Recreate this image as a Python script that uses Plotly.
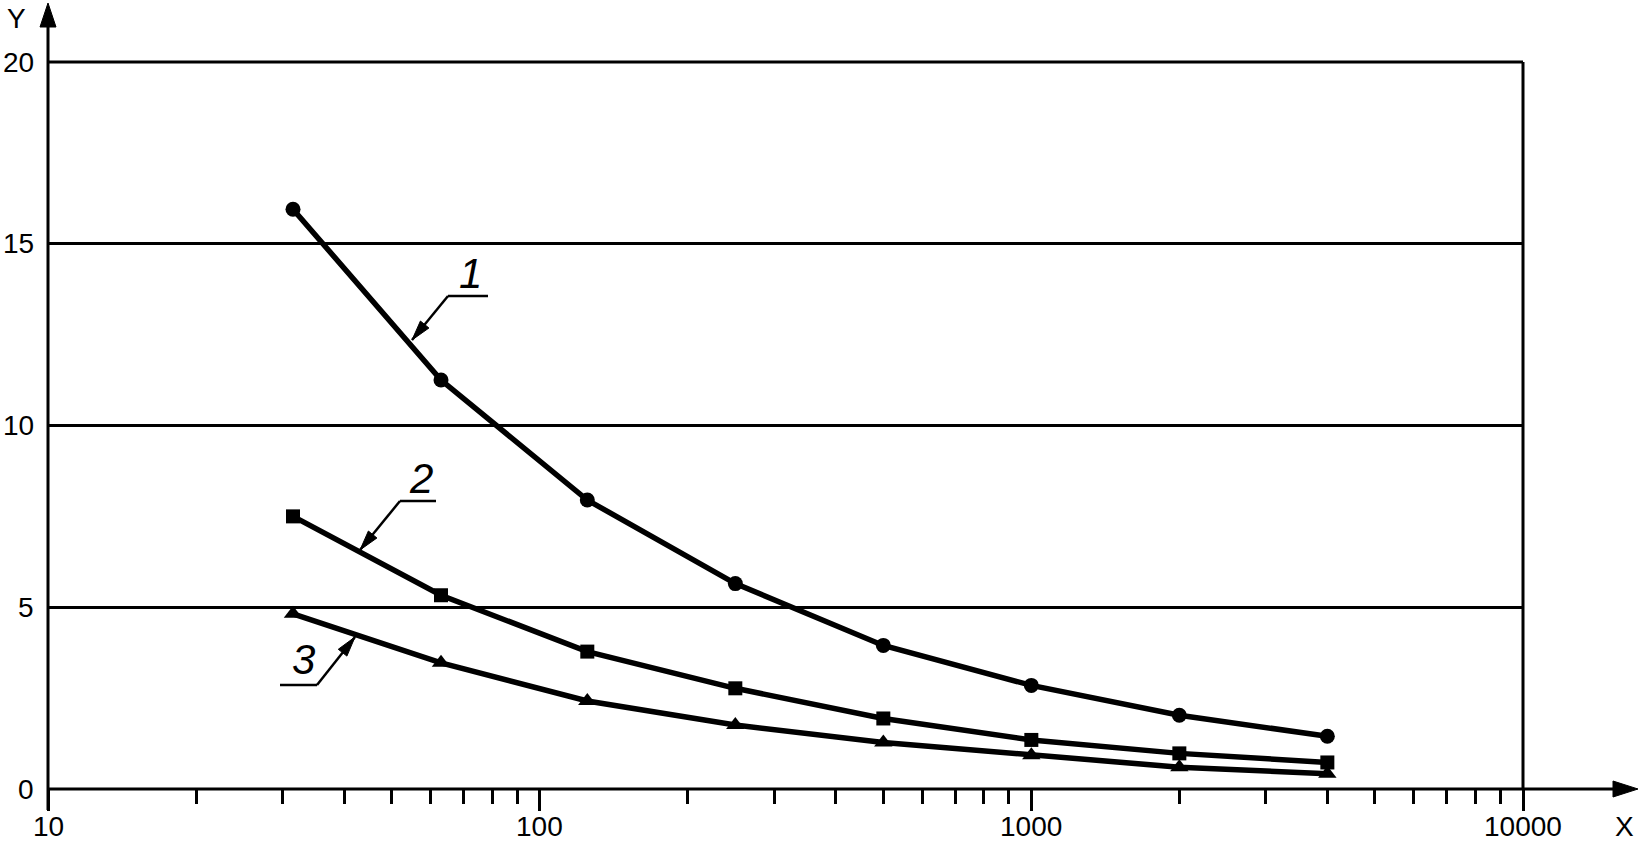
import math
import plotly.graph_objects as go

# ---- data ----
freq = [31.5, 63, 125, 250, 500, 1000, 2000, 4000]
curve1 = [15.95, 11.25, 7.95, 5.65, 3.95, 2.85, 2.03, 1.45]
curve2 = [7.5, 5.33, 3.78, 2.77, 1.94, 1.35, 0.98, 0.73]
curve3 = [4.82, 3.47, 2.42, 1.76, 1.28, 0.93, 0.60, 0.42]
x_major = [10, 100, 1000, 10000]
x_major_text = ["10", "100", "1000", "10000"]
x_minor = [m * d for d in (10, 100, 1000) for m in range(2, 10)]
y_ticks = [0, 5, 10, 15, 20]
y_tick_text = ["0", "5", "10", "15", "20"]
curve_labels = ["1", "2", "3"]

W, H = 1639, 844
L, R, T, B = 48, 116, 62, 55
PW, PH = W - L - R, H - T - B


def px(x):
    return (x - L) / PW


def py(y):
    return (H - B - y) / PH


FONT = "Liberation Sans, Arial, sans-serif"

fig = go.Figure()
for ys, sym, sz in [(curve1, "circle", 15), (curve2, "square", 14), (curve3, "triangle-up", 16)]:
    fig.add_trace(go.Scatter(
        x=freq, y=ys, mode="lines+markers",
        line=dict(color="black", width=5.5),
        marker=dict(symbol=sym, size=sz, color="black"),
        showlegend=False, cliponaxis=False,
    ))

shapes = []
shapes.append(dict(type="line", xref="paper", yref="paper",
                   x0=px(48), x1=px(48), y0=py(810), y1=py(22),
                   line=dict(color="black", width=3)))
shapes.append(dict(type="line", xref="paper", yref="paper",
                   x0=px(48), x1=px(1618), y0=py(789), y1=py(789),
                   line=dict(color="black", width=3)))
shapes.append(dict(type="line", xref="paper", yref="paper",
                   x0=0, x1=1, y0=1, y1=1,
                   line=dict(color="black", width=3)))
shapes.append(dict(type="line", xref="paper", yref="paper",
                   x0=1, x1=1, y0=py(789), y1=py(62),
                   line=dict(color="black", width=3)))
shapes.append(dict(type="path", xref="paper", yref="paper",
                   path=f"M {px(48)},{py(3)} L {px(40)},{py(27)} L {px(56)},{py(27)} Z",
                   fillcolor="black", line=dict(color="black", width=1)))
shapes.append(dict(type="path", xref="paper", yref="paper",
                   path=f"M {px(1638)},{py(789)} L {px(1613)},{py(781)} L {px(1613)},{py(797)} Z",
                   fillcolor="black", line=dict(color="black", width=1)))


def leader(x0, y0, x1, y1, ux0, ux1):
    shapes.append(dict(type="line", xref="paper", yref="paper",
                       x0=px(ux0), x1=px(ux1), y0=py(y0), y1=py(y0),
                       line=dict(color="black", width=2.5)))
    shapes.append(dict(type="line", xref="paper", yref="paper",
                       x0=px(x0), x1=px(x1), y0=py(y0), y1=py(y1),
                       line=dict(color="black", width=2.5)))
    dx, dy = x1 - x0, y1 - y0
    n = math.hypot(dx, dy)
    ux, uy = dx / n, dy / n
    hl, hw = 20, 5.5
    bx, by = x1 - ux * hl, y1 - uy * hl
    p1 = (bx - uy * hw, by + ux * hw)
    p2 = (bx + uy * hw, by - ux * hw)
    shapes.append(dict(type="path", xref="paper", yref="paper",
                       path=f"M {px(x1)},{py(y1)} L {px(p1[0])},{py(p1[1])} L {px(p2[0])},{py(p2[1])} Z",
                       fillcolor="black", line=dict(color="black", width=1)))


leader(448, 296, 412, 340, 448, 488)
leader(400, 501, 360, 550, 400, 436)
leader(317, 685, 355, 637, 280, 317)

tickfont = dict(family=FONT, size=28, color="black")
annotations = [
    dict(text="Y", x=px(17), y=py(19), xref="paper", yref="paper", showarrow=False,
         xanchor="center", yanchor="middle", font=tickfont),
    dict(text="X", x=px(1624), y=py(826), xref="paper", yref="paper", showarrow=False,
         xanchor="center", yanchor="middle", font=tickfont),
]
# x tick labels (log axis: annotation x in log10 units)
for v, t in zip(x_major, x_major_text):
    annotations.append(dict(text=t, x=math.log10(v), xref="x", y=py(826), yref="paper",
                            showarrow=False, xanchor="center", yanchor="middle", font=tickfont))
# y tick labels
for v, t in zip(y_ticks, y_tick_text):
    annotations.append(dict(text=t, x=px(36), xref="paper", y=v, yref="y",
                            showarrow=False, xanchor="right", yanchor="middle", font=tickfont))
for lab, (cx, cy) in zip(curve_labels, [(470, 273), (421, 478), (303, 659)]):
    annotations.append(dict(text=f"<i>{lab}</i>", x=px(cx), y=py(cy), xref="paper", yref="paper",
                            showarrow=False, xanchor="center", yanchor="middle",
                            font=dict(family=FONT, size=42, color="black")))

fig.update_layout(
    width=W, height=H,
    margin=dict(l=L, r=R, t=T, b=B, pad=0, autoexpand=False),
    paper_bgcolor="white", plot_bgcolor="white",
    shapes=shapes, annotations=annotations,
    font=dict(family=FONT, size=30, color="black"),
    xaxis=dict(type="log", range=[1, 4], tickmode="array", tickvals=x_major, showticklabels=False,
               ticks="outside", ticklen=21, tickwidth=3, tickcolor="black", automargin=False,
               showgrid=False, zeroline=False, showline=False,
               minor=dict(tickmode="array", tickvals=x_minor, ticks="outside", ticklen=14,
                          tickwidth=3, tickcolor="black", showgrid=False)),
    yaxis=dict(range=[0, 20], tickmode="array", tickvals=y_ticks, ticks="", automargin=False,
               showticklabels=False,
               showgrid=True, gridcolor="black", gridwidth=3,
               zeroline=False, showline=False),
)

fig.write_html("out.html")
